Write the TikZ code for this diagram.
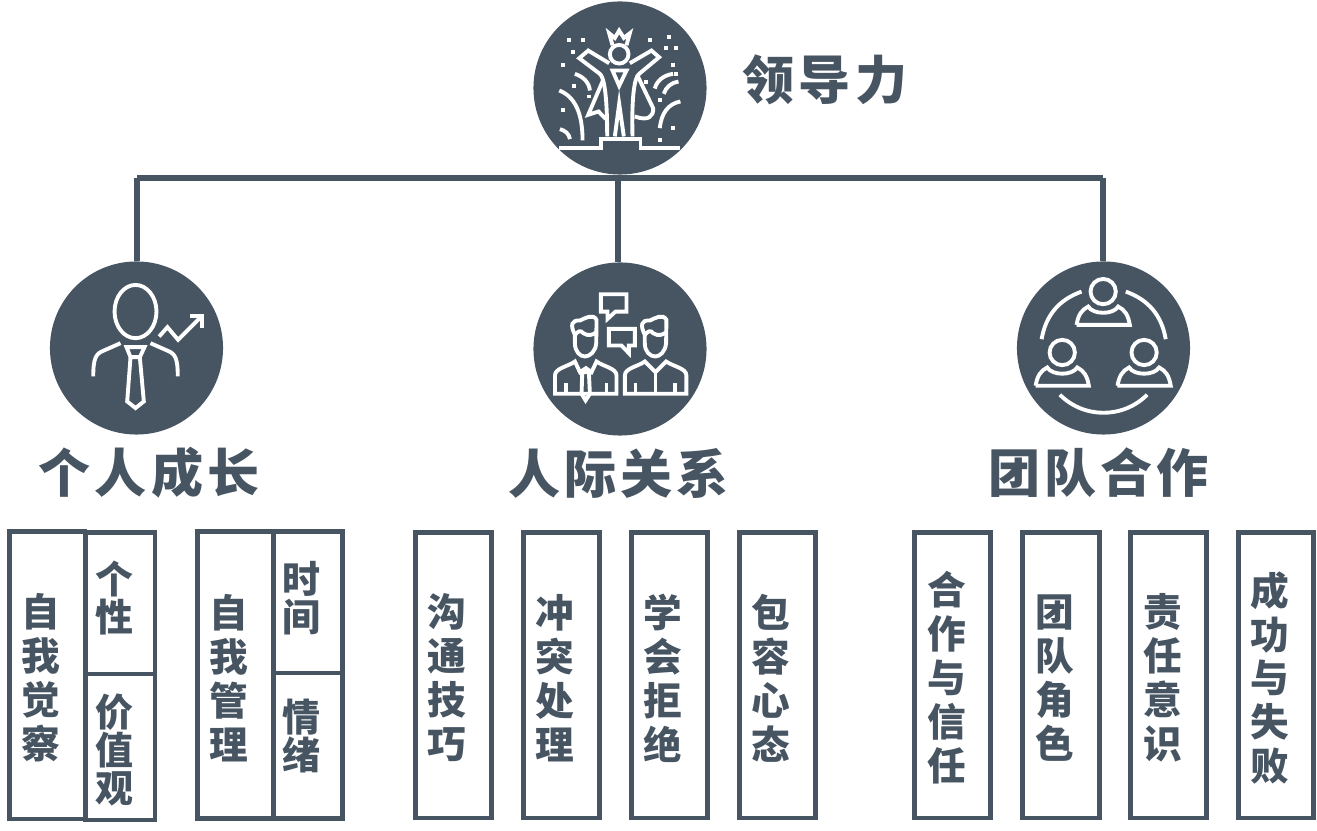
\documentclass[tikz,border=0pt]{standalone}
\usepackage{fontspec}
\newfontfamily\cjk{Noto Sans CJK SC}
\newfontfamily\cjktitle[LetterSpace=8]{Noto Sans CJK SC}
\definecolor{myslate}{RGB}{71,85,99}
\lineskiplimit=-20pt
\tikzset{
    bigcircle/.style={circle, fill=myslate, minimum size=1.73cm, inner sep=0pt},
    busline/.style={draw=myslate, line width=1.45pt},
    boxline/.style={draw=myslate, line width=1.4pt},
    iconline/.style={draw=white, line width=1.1pt, fill=none},
    icondot/.style={fill=white, draw=none},
    titletext/.style={text=myslate, font=\cjktitle\bfseries\fontsize{14.8}{16}\selectfont},
    longtext/.style={text=myslate, align=center, font=\cjk\bfseries\fontsize{11}{12.5}\selectfont},
    shorttext/.style={text=myslate, align=center, font=\cjk\bfseries\fontsize{10.8}{10.9}\selectfont},
}
\begin{document}
\begin{tikzpicture}[x=0.01cm, y=-0.01cm]
    \useasboundingbox (0, 0) rectangle (1317, 831);

    % Circles for the four headings
    \node[bigcircle] (lead) at (620, 88) {};
    \node[bigcircle] (grow) at (136.5, 348) {};
    \node[bigcircle] (peer) at (620, 349) {};
    \node[bigcircle] (team) at (1103.5, 348) {};

    % Bus and its three drops
    \coordinate (busl) at (137, 178);
    \coordinate (busm) at (618, 178);
    \coordinate (busr) at (1103, 178);
    \draw[busline] (busl) -- (busr);
    \draw[busline] (busl) -- (busl |- grow.north);
    \draw[busline] (busm) -- (busm |- peer.north);
    \draw[busline] (busr) -- (busr |- team.north);

    % Headings
    \node[titletext] (leadtitle) at (825, 80) {领导力};
    \node[titletext] (growtitle) at (149, 473) {个人成长};
    \node[titletext] (peertitle) at (618.5, 473) {人际关系};
    \node[titletext] (teamtitle) at (1098.5, 473) {团队合作};

    % Icon: figure on the podium
    \begin{scope}[shift={(520, 0)}, x=0.003333cm, y=-0.003333cm]
        \draw[iconline] (278, 136) -- (268, 100) -- (285, 114) -- (298, 92) -- (312, 114) -- (330, 100) -- (320, 136);
        \draw[iconline] (298, 163) circle (28);
        \draw[iconline] (268, 190) -- (205, 152) -- (178, 175) -- (240, 222) .. controls (252, 232) and (262, 280) .. (262, 410);
        \draw[iconline] (330, 190) -- (395, 152) -- (418, 172) -- (358, 222) .. controls (345, 232) and (335, 280) .. (338, 410);
        \draw[iconline] (278, 212) -- (298, 258) -- (320, 212) -- cycle;
        \draw[iconline] (285, 410) -- (298, 312) -- (312, 410);
        \draw[iconline] (250, 240) -- (205, 345) -- (236, 335) -- (258, 358);
        \draw[iconline] (352, 225) -- (400, 325) .. controls (402, 350) and (385, 365) .. (345, 350);
        \draw[iconline] (118, 445) -- (243, 445) -- (243, 417) -- (362, 417) -- (362, 445) -- (482, 445);
        % Fireworks
        \draw[iconline] (118, 272) .. controls (165, 290) and (188, 340) .. (188, 422);
        \draw[iconline] (165, 222) .. controls (190, 230) and (208, 248) .. (210, 272);
        \draw[iconline] (120, 388) .. controls (135, 392) and (148, 402) .. (150, 418);
        \draw[iconline] (405, 266) .. controls (412, 240) and (435, 225) .. (460, 222);
        \draw[iconline] (432, 282) .. controls (438, 262) and (455, 248) .. (476, 245);
        \draw[iconline] (420, 385) .. controls (425, 340) and (445, 312) .. (482, 305);
        \foreach \dotx/\doty in {146/120, 190/120, 158/155, 128/195, 163/257, 208/290, 128/330, 392/120, 448/110, 438/143, 470/143, 460/195, 470/222, 380/245, 420/302, 460/385, 420/422} {
            \fill[icondot] (\dotx-6, \doty-6) rectangle (\dotx+6, \doty+6);
        }
    \end{scope}

    % Icon: head, tie and rising arrow
    \begin{scope}[shift={(40, 250)}, x=0.003333cm, y=-0.003333cm]
        \draw[iconline] (287, 185) ellipse (63 and 80);
        \draw[iconline] (242, 280) -- (190, 303) .. controls (168, 312) and (160, 325) .. (160, 380);
        \draw[iconline] (332, 280) -- (384, 303) .. controls (406, 312) and (414, 325) .. (414, 380);
        \draw[iconline] (260, 292) -- (314, 292) -- (300, 322) -- (272, 322) -- cycle;
        \draw[iconline] (272, 322) -- (262, 455) -- (287, 475) -- (312, 455) -- (300, 322);
        \draw[iconline] (358, 260) -- (383, 232) -- (415, 270) -- (485, 200);
        \draw[iconline] (452, 198) -- (488, 198) -- (488, 235);
    \end{scope}

    % Icon: two people talking
    \begin{scope}[shift={(525, 255)}, x=0.003333cm, y=-0.003333cm]
        \draw[iconline] (228, 118) -- (305, 118) -- (305, 170) -- (272, 170) -- (248, 192) -- (248, 170) -- (228, 170) -- cycle;
        \draw[iconline] (252, 222) -- (330, 222) -- (330, 272) -- (312, 272) -- (312, 295) -- (290, 272) -- (252, 272) -- cycle;
        % Left person
        \draw[iconline] (150, 240) .. controls (135, 210) and (140, 195) .. (165, 197) .. controls (180, 190) and (205, 175) .. (215, 195) -- (214, 265) .. controls (212, 290) and (195, 305) .. (180, 305) .. controls (165, 305) and (150, 290) .. (150, 265) -- cycle;
        \draw[iconline] (150, 240) .. controls (160, 228) and (168, 225) .. (175, 235) .. controls (190, 245) and (205, 240) .. (214, 232);
        \draw[iconline] (90, 417) -- (90, 362) .. controls (90, 340) and (130, 335) .. (150, 320) -- (165, 352) -- (183, 340) -- (200, 352) -- (215, 320) .. controls (235, 335) and (275, 340) .. (275, 362) -- (275, 417) -- cycle;
        \draw[iconline] (172, 352) -- (192, 352) -- (195, 417) -- (182, 437) -- (170, 417) -- cycle;
        \draw[iconline] (122, 417) -- (122, 385);
        \draw[iconline] (245, 417) -- (245, 385);
        % Right person
        \draw[iconline] (360, 240) .. controls (345, 210) and (350, 195) .. (375, 197) .. controls (390, 190) and (415, 175) .. (425, 195) -- (424, 265) .. controls (422, 290) and (405, 305) .. (392, 305) .. controls (375, 305) and (360, 290) .. (360, 265) -- cycle;
        \draw[iconline] (360, 240) .. controls (370, 228) and (378, 225) .. (385, 235) .. controls (400, 245) and (415, 240) .. (424, 232);
        \draw[iconline] (300, 417) -- (300, 362) .. controls (300, 340) and (340, 335) .. (360, 320) -- (392, 352) -- (424, 320) .. controls (445, 335) and (485, 340) .. (485, 362) -- (485, 417) -- cycle;
        \draw[iconline] (392, 352) -- (392, 417);
        \draw[iconline] (332, 417) -- (332, 385);
        \draw[iconline] (452, 417) -- (452, 385);
    \end{scope}

    % Icon: three people in a ring
    \begin{scope}[shift={(1010, 250)}, x=0.003333cm, y=-0.003333cm]
        \draw[iconline] (280, 125) circle (38);
        \draw[iconline] (157, 308) circle (38);
        \draw[iconline] (403, 308) circle (38);
        \draw[iconline] (200, 225) -- (360, 225) .. controls (355, 195) and (345, 180) .. (325, 170) .. controls (310, 195) and (250, 195) .. (235, 170) .. controls (215, 180) and (205, 195) .. (200, 225);
        \draw[iconline] (77, 408) -- (237, 408) .. controls (232, 378) and (222, 363) .. (202, 353) .. controls (187, 378) and (127, 378) .. (112, 353) .. controls (92, 363) and (82, 378) .. (77, 408);
        \draw[iconline] (323, 408) -- (483, 408) .. controls (478, 378) and (468, 363) .. (448, 353) .. controls (433, 378) and (373, 378) .. (358, 353) .. controls (338, 363) and (328, 378) .. (323, 408);
        \draw[iconline] (95, 268) to[bend left=30] (215, 125);
        \draw[iconline] (348, 125) to[bend left=30] (468, 268);
        \draw[iconline] (150, 435) to[bend right=45] (412, 435);
    \end{scope}

    % Boxes under the first heading
    \draw[boxline] (9.5, 531.5) rectangle (85, 819);
    \draw[boxline] (85.5, 532.5) rectangle (155, 820);
    \draw[boxline] (85.5, 674) -- (155, 674);
    \draw[boxline] (197.5, 531.5) rectangle (342.5, 818.5);
    \draw[boxline] (273.5, 531.5) -- (273.5, 818.5);
    \draw[boxline] (273.5, 673) -- (342.5, 673);
    \node[longtext] (selfaware) at (41, 678) {自\\我\\觉\\察};
    \node[shorttext] (character) at (114, 598) {个\\性};
    \node[shorttext] (values) at (114, 750) {价\\值\\观};
    \node[longtext] (selfmanage) at (229, 678) {自\\我\\管\\理};
    \node[shorttext] (timing) at (301, 598) {时\\间};
    \node[shorttext] (emotion) at (301, 736) {情\\绪};

    % Boxes under the second heading
    \draw[boxline] (415.5, 532.5) rectangle (491.5, 818);
    \draw[boxline] (523.5, 532.5) rectangle (599.5, 818);
    \draw[boxline] (631.5, 532.5) rectangle (707.5, 818);
    \draw[boxline] (739.5, 532.5) rectangle (815.5, 818);
    \node[longtext] (talk) at (447, 678) {沟\\通\\技\\巧};
    \node[longtext] (conflict) at (555, 678) {冲\\突\\处\\理};
    \node[longtext] (refuse) at (663, 678) {学\\会\\拒\\绝};
    \node[longtext] (tolerate) at (771, 678) {包\\容\\心\\态};

    % Boxes under the third heading
    \draw[boxline] (914.5, 532.5) rectangle (990.5, 818);
    \draw[boxline] (1022.5, 532.5) rectangle (1099.5, 818);
    \draw[boxline] (1130.5, 532.5) rectangle (1206.5, 818);
    \draw[boxline] (1238.5, 532.5) rectangle (1313.5, 818);
    \node[longtext] (trust) at (947, 678) {合\\作\\与\\信\\任};
    \node[longtext] (roles) at (1055, 678) {团\\队\\角\\色};
    \node[longtext] (duty) at (1163, 678) {责\\任\\意\\识};
    \node[longtext] (failure) at (1270, 678) {成\\功\\与\\失\\败};
\end{tikzpicture}
\end{document}
